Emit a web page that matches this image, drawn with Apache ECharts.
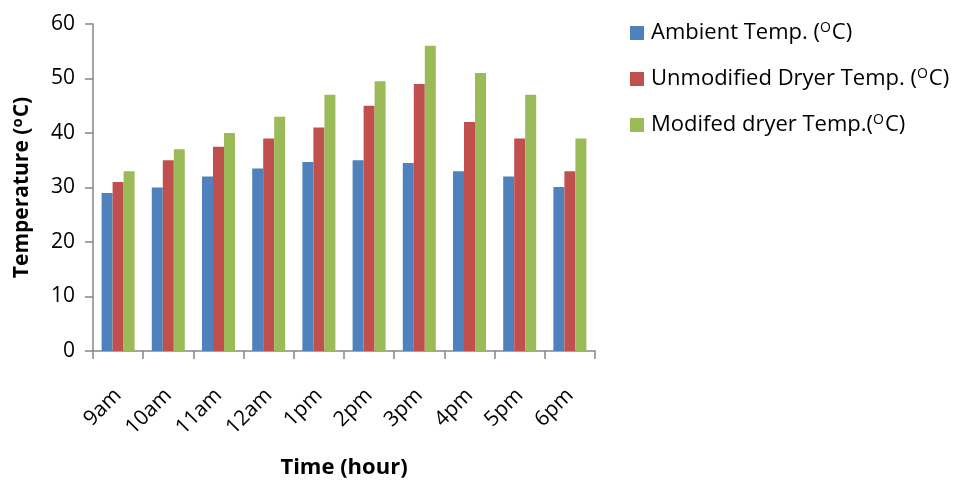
<!DOCTYPE html>
<html><head><meta charset="utf-8">
<script src="https://cdn.jsdelivr.net/npm/echarts@6/dist/echarts.min.js"></script>
<style>html,body{margin:0;padding:0;background:#fff}#c{width:972px;height:485px}</style>
</head><body><div id="c"></div>
<script>
const categories = ['9am','10am','11am','12am','1pm','2pm','3pm','4pm','5pm','6pm'];
const ambient = [29, 30, 32, 33.5, 34.7, 35, 34.5, 33, 32, 30.1];
const unmodified = [31, 35, 37.5, 39, 41, 45, 49, 42, 39, 33];
const modified = [33, 37, 40, 43, 47, 49.5, 56, 51, 47, 39];
const seriesNames = ['Ambient Temp. (OC)', 'Unmodified Dryer Temp. (OC)', 'Modifed dryer Temp.(OC)'];
const yTicks = [0, 60, 10];

const font = 'Open Sans';
const chart = echarts.init(document.getElementById('c'), null, {renderer:'canvas'});
const mk = (name, data, color) => ({
  name, type:'bar', data, barWidth: 11, barGap: '0%',
  itemStyle:{color}
});
// render "(OC)" with a superscript O
const supFmt = (s) => s.replace('(OC)', '({sup|O}C)');
chart.setOption({
  animation:false,
  textStyle:{fontFamily:font},
  grid:{left:93, right:377, top:24, bottom:134, containLabel:false, outerBoundsMode:'none'},
  legend:{
    orient:'vertical', left:625, top:14, itemWidth:14, itemHeight:14, itemGap:18,
    icon:'rect',
    formatter: supFmt,
    textStyle:{fontSize:22, color:'#000', fontFamily:font, padding:[0,0,0,2], lineHeight:28,
      rich:{sup:{fontSize:14, fontFamily:font, color:'#000', lineHeight:28, padding:[0,1,10,0]}}},
    data: seriesNames
  },
  xAxis:{
    type:'category', data:categories,
    axisLine:{lineStyle:{color:'#868686', width:1.5}},
    axisTick:{show:true, length:8, alignWithLabel:false, lineStyle:{color:'#868686', width:1.5}},
    axisLabel:{rotate:45, fontSize:21, color:'#000', margin:41, fontFamily:font},
    name:'Time (hour)', nameLocation:'middle', nameGap:106,
    nameTextStyle:{fontSize:22, fontWeight:'bold', color:'#000', fontFamily:font}
  },
  yAxis:{
    type:'value', min:yTicks[0], max:yTicks[1], interval:yTicks[2],
    splitLine:{show:false},
    axisLine:{show:true, lineStyle:{color:'#868686', width:1.5}},
    axisTick:{show:true, length:8, lineStyle:{color:'#868686', width:1.5}},
    axisLabel:{fontSize:21, color:'#000', margin:18, fontFamily:font},
    name:'Temperature ({sup|o}C)', nameLocation:'middle', nameGap:57, nameRotate:90,
    nameTextStyle:{fontSize:21, fontWeight:'bold', color:'#000', fontFamily:font, lineHeight:28,
      rich:{sup:{fontSize:15, fontWeight:'bold', fontFamily:font, color:'#000', lineHeight:28, padding:[0,1,8,0]}}}
  },
  series:[
    mk(seriesNames[0], ambient, '#4F81BD'),
    mk(seriesNames[1], unmodified, '#C0504D'),
    mk(seriesNames[2], modified, '#9BBB59')
  ]
});
</script></body></html>
